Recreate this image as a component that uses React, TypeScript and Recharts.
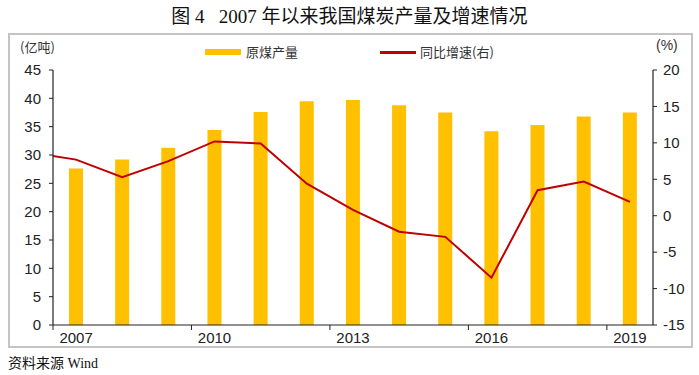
import React from "react";
import { ComposedChart, Bar, Line, XAxis, YAxis } from "recharts";

const years = [2006, 2007, 2008, 2009, 2010, 2011, 2012, 2013, 2014, 2015, 2016, 2017, 2018, 2019];
const production = [null, 27.6, 29.2, 31.3, 34.4, 37.6, 39.5, 39.7, 38.8, 37.5, 34.2, 35.3, 36.8, 37.5];
const growth = [8.7, 7.7, 5.3, 7.5, 10.2, 9.9, 4.4, 0.8, -2.2, -2.9, -8.5, 3.5, 4.7, 1.9];
const xTicks = [2007, 2010, 2013, 2016, 2019];
const leftTicks = [0, 5, 10, 15, 20, 25, 30, 35, 40, 45];
const rightTicks = [-15, -10, -5, 0, 5, 10, 15, 20];

const data = years.map((y, i) => ({ year: y, production: production[i], growth: growth[i] }));

const W = 699;
const H = 375;
const PLOT_LEFT = 53;
const PLOT_RIGHT = 653;
const PLOT_TOP = 70;
const PLOT_BOTTOM = 325;
const AXIS_W = 40;
const shown = years.length - 1;
const BAND = (PLOT_RIGHT - PLOT_LEFT) / shown;

const BAR = "#FFC000";
const LINE = "#C00000";
const AXIS = "#222";
const tickFont = { fontFamily: '"Liberation Sans", Arial, sans-serif', fontSize: 15, fill: "#222" };

const XTick = (props: any) => {
  const { x, y, payload } = props;
  const bx = x - BAND / 2;
  return (
    <g>
      <line x1={bx} y1={y} x2={bx} y2={y + 5} stroke={AXIS} strokeWidth={1} />
      <text x={x} y={y + 18} textAnchor="middle" style={tickFont as any}>
        {payload.value}
      </text>
    </g>
  );
};

export default function App() {
  return (
    <div style={{ position: "absolute", left: 0, top: 0, width: W, height: H, background: "#fff" }}>
      <div
        style={{
          position: "absolute",
          left: 0,
          top: 1,
          width: W,
          textAlign: "center",
          fontFamily: '"Liberation Serif", "Noto Sans CJK SC", serif',
          fontSize: 19,
          color: "#111",
          whiteSpace: "pre",
        }}
      >
        {"图 4   2007 年以来我国煤炭产量及增速情况"}
      </div>
      <div
        style={{
          position: "absolute",
          left: 8,
          top: 33,
          width: 681,
          height: 311,
          border: "2px solid #c4c4c4",
        }}
      />
      <div
        style={{
          position: "absolute",
          left: 20,
          top: 37,
          fontFamily: '"Noto Sans CJK SC", sans-serif',
          fontSize: 13,
          color: "#333",
        }}
      >
        (亿吨)
      </div>
      <div
        style={{
          position: "absolute",
          left: 656,
          top: 37,
          fontFamily: '"Liberation Sans", Arial, sans-serif',
          fontSize: 14,
          color: "#333",
        }}
      >
        (%)
      </div>
      <div style={{ position: "absolute", left: 205, top: 49, width: 36, height: 6, background: BAR }} />
      <div
        style={{
          position: "absolute",
          left: 246,
          top: 42,
          fontFamily: '"Noto Sans CJK SC", sans-serif',
          fontSize: 13,
          color: "#333",
        }}
      >
        原煤产量
      </div>
      <div style={{ position: "absolute", left: 380, top: 51, width: 36, height: 3, background: LINE }} />
      <div
        style={{
          position: "absolute",
          left: 420,
          top: 42,
          fontFamily: '"Noto Sans CJK SC", sans-serif',
          fontSize: 13,
          color: "#333",
        }}
      >
        同比增速(右)
      </div>
      <div style={{ position: "absolute", left: 0, top: 0 }}>
        <ComposedChart
          width={W}
          height={H}
          data={data}
          margin={{
            top: PLOT_TOP,
            left: PLOT_LEFT - AXIS_W,
            right: W - PLOT_RIGHT - AXIS_W,
            bottom: H - PLOT_BOTTOM - 20,
          }}
        >
          <XAxis
            dataKey="year"
            type="number"
            domain={[2006.5, 2019.5]}
            allowDataOverflow
            ticks={xTicks}
            interval={0}
            height={20}
            tickSize={0}
            tickMargin={0}
            tickLine={false}
            axisLine={{ stroke: AXIS, strokeWidth: 1.2 }}
            tick={<XTick />}
          />
          <YAxis
            yAxisId="left"
            orientation="left"
            width={AXIS_W}
            domain={[0, 45]}
            ticks={leftTicks}
            interval={0}
            tickSize={4}
            tickMargin={8}
            axisLine={{ stroke: AXIS, strokeWidth: 1.2 }}
            tickLine={{ stroke: AXIS }}
            tick={tickFont}
          />
          <YAxis
            yAxisId="right"
            orientation="right"
            width={AXIS_W}
            domain={[-15, 20]}
            ticks={rightTicks}
            interval={0}
            tickSize={4}
            tickMargin={6}
            axisLine={{ stroke: AXIS, strokeWidth: 1.2 }}
            tickLine={{ stroke: AXIS }}
            tick={tickFont}
          />
          <Bar yAxisId="left" dataKey="production" fill={BAR} barSize={14} isAnimationActive={false} />
          <Line
            yAxisId="right"
            dataKey="growth"
            stroke={LINE}
            strokeWidth={2}
            dot={false}
            type="linear"
            isAnimationActive={false}
          />
        </ComposedChart>
      </div>
      <div
        style={{
          position: "absolute",
          left: 8,
          top: 352,
          fontFamily: '"Liberation Serif", "Noto Sans CJK SC", serif',
          fontSize: 14,
          color: "#111",
        }}
      >
        资料来源 Wind
      </div>
    </div>
  );
}
